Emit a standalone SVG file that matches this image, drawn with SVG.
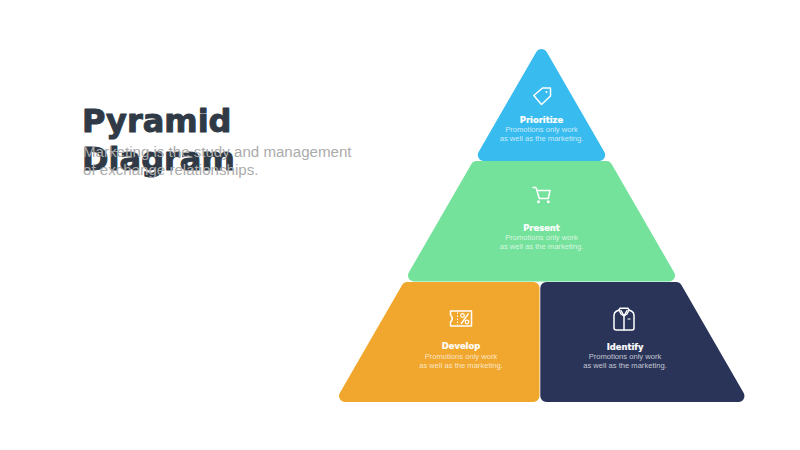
<svg xmlns="http://www.w3.org/2000/svg" width="800" height="450" viewBox="0 0 800 450">
<style>
.p{stroke-width:12;stroke-linejoin:round}
.h{font-family:"DejaVu Sans",sans-serif;font-weight:700;font-size:8.4px;fill:#fff;stroke:#fff;stroke-width:.2px;text-anchor:middle}
.d{font-family:"Liberation Sans",Arial,sans-serif;font-size:7.6px;fill:#fff;fill-opacity:.72;text-anchor:middle}
.i{fill:none;stroke:#fff;stroke-width:1.5;stroke-linejoin:round;stroke-linecap:round}
.t{font-family:"DejaVu Sans",sans-serif;font-weight:700;font-size:32px;fill:#2F3A46;stroke:#2F3A46;stroke-width:1px;stroke-linejoin:round}
.s{font-family:"Liberation Sans",Arial,sans-serif;font-size:15.1px;fill:#ABABAB}
</style>
<rect width="800" height="450" fill="#fff"/>
<g id="heading">
<text class="t" x="82" y="131.500">Pyramid</text>
<text class="t" x="82" y="170">Diagram</text>
<text class="s" x="83" y="157">Marketing is the study and management</text>
<text class="s" x="83" y="175">of exchange relationships.</text>
</g>
<g id="prioritize">
<polygon class="p" fill="#38BBEE" stroke="#38BBEE" points="541.500,55 483.800,155 599.200,155"/>
<path class="i" d="M533.800 95.500L542.500 88H550.500V96L541.500 104.500Z"/>
<circle cx="546.500" cy="92" r="1" fill="#fff"/>
<text class="h" x="541.500" y="122.500">Prioritize</text>
<text class="d" x="541.500" y="131.500">Promotions only work</text>
<text class="d" x="541.500" y="140.500">as well as the marketing.</text>
</g>
<g id="present">
<polygon class="p" fill="#74E29A" stroke="#74E29A" points="476.600,167 606.400,167 669,275.500 414,275.500"/>
<path class="i" d="M533 187.500H536L539.300 198.500H548.300L550 190.500H537"/>
<circle cx="538.500" cy="201.800" r="1.500" fill="#fff"/><circle cx="548.300" cy="201.800" r="1.500" fill="#fff"/>
<text class="h" x="541.500" y="230.500">Present</text>
<text class="d" x="541.500" y="239.500">Promotions only work</text>
<text class="d" x="541.500" y="248.500">as well as the marketing.</text>
</g>
<g id="develop">
<polygon class="p" fill="#F1A72D" stroke="#F1A72D" points="407.300,288 533.500,288 533.500,396 345,396"/>
<path class="i" d="M450.500 311H471.500V326H450.500V322Q454 318.500 450.500 315Z"/>
<path d="M457.500 312.500V325" fill="none" stroke="#fff" stroke-width="1" stroke-dasharray="1.500 1.500"/>
<path d="M461 324L468.500 313.500" fill="none" stroke="#fff" stroke-width="1.300"/>
<circle cx="462.500" cy="315.500" r="1.800" fill="none" stroke="#fff" stroke-width="1.200"/><circle cx="467" cy="322" r="1.800" fill="none" stroke="#fff" stroke-width="1.200"/>
<text class="h" x="461" y="349">Develop</text>
<text class="d" x="461" y="358.500">Promotions only work</text>
<text class="d" x="461" y="367.500">as well as the marketing.</text>
</g>
<g id="identify">
<polygon class="p" fill="#2A3459" stroke="#2A3459" points="546.300,288 676.200,288 738.500,396 546.300,396"/>
<path class="i" d="M619 310L616 311.500Q614 312.500 614 315.500V328Q614 330 616.500 330H632Q634 330 634 328V315.500Q634 312.500 632 311.500L629 310"/>
<path class="i" d="M619 310L620 308.200H628L629 310L627 314L624 316L621 314Z"/>
<path class="i" d="M621 310.500L624 316L627 310.500M624 316V330" stroke-width="1.100"/>
<path d="M627.500 319H630.500" stroke="#fff" stroke-width="1"/>
<text class="h" x="625" y="350">Identify</text>
<text class="d" x="625" y="359">Promotions only work</text>
<text class="d" x="625" y="368">as well as the marketing.</text>
</g>
<g id="connectors"></g>
</svg>
